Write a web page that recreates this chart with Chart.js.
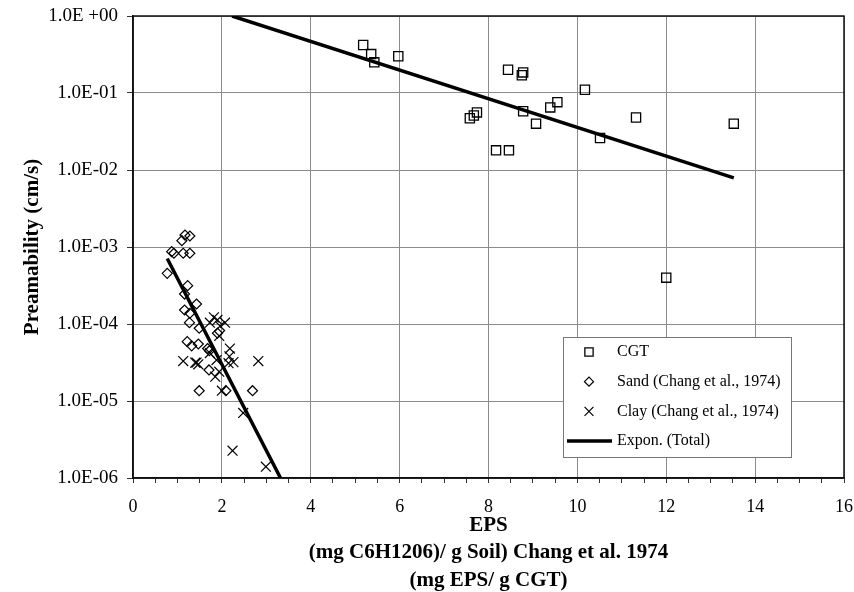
<!DOCTYPE html>
<html>
<head>
<meta charset="utf-8">
<title>Preamability vs EPS</title>
<script src="https://cdn.jsdelivr.net/npm/chart.js@4.4.1/dist/chart.umd.min.js"></script>
<style>
  html, body { margin: 0; padding: 0; background: #fff; }
  canvas { display: block; }
</style>
</head>
<body>
<canvas id="epsChart" width="854" height="592"></canvas>
<script>
// CGT measurements (mg EPS / g CGT, cm/s)
const cgtX = [5.18, 5.36, 5.43, 5.97, 7.58, 7.67, 7.74, 8.17, 8.46, 8.44, 8.78, 8.75, 8.78, 9.07, 9.39, 9.55, 10.17, 10.51, 11.32, 12.0, 13.52];
const cgtY = [0.42, 0.32, 0.25, 0.30, 0.047, 0.051, 0.056, 0.018, 0.018, 0.20, 0.185, 0.17, 0.058, 0.040, 0.065, 0.076, 0.11, 0.026, 0.048, 0.0004, 0.040];

// Sand (Chang et al., 1974)
const sandX = [1.17, 1.28, 1.10, 0.87, 0.92, 1.13, 1.28, 0.77, 1.23, 1.16, 1.43, 1.16, 1.28, 1.27, 1.49, 1.22, 1.32, 1.47, 1.68, 1.72, 1.71, 1.49, 2.09, 2.69, 1.90];
const sandY = [1.43e-3, 1.39e-3, 1.21e-3, 8.7e-4, 8.3e-4, 8.3e-4, 8.3e-4, 4.55e-4, 3.15e-4, 2.45e-4, 1.82e-4, 1.52e-4, 1.38e-4, 1.04e-4, 8.8e-5, 5.9e-5, 5.2e-5, 5.5e-5, 4.8e-5, 4.5e-5, 2.53e-5, 1.36e-5, 1.36e-5, 1.36e-5, 7.6e-5];

// Clay (Chang et al., 1974)
const clayX = [1.13, 1.40, 1.47, 1.43, 1.82, 1.73, 1.96, 2.07, 1.90, 1.94, 1.73, 1.88, 2.18, 2.17, 2.26, 2.15, 1.94, 1.85, 2.82, 2.00, 2.48, 2.24, 2.99];
const clayY = [3.3e-5, 3.15e-5, 3.0e-5, 3.15e-5, 1.22e-4, 1.04e-4, 9.4e-5, 1.04e-4, 1.13e-4, 7.0e-5, 4.2e-5, 3.4e-5, 4.8e-5, 3.8e-5, 3.2e-5, 3.1e-5, 2.4e-5, 2.07e-5, 3.3e-5, 1.36e-5, 7.0e-6, 2.26e-6, 1.4e-6];

// Expon. (Total) trend lines; null splits the two pieces
const trendX = [0.77, 3.32, 3.32, 2.23, 13.52];
const trendY = [7.1e-4, 1e-6, null, 1.0, 0.0079];

// axis ticks
const xTickLabels = ['0', '2', '4', '6', '8', '10', '12', '14', '16'];
const yTickValues = [1, 1e-1, 1e-2, 1e-3, 1e-4, 1e-5, 1e-6];
const yTickLabels = ['1.0E +00', '1.0E-01', '1.0E-02', '1.0E-03', '1.0E-04', '1.0E-05', '1.0E-06'];

const serif = '"Liberation Serif", "DejaVu Serif", serif';

function toPoints(xs, ys) {
  return xs.map((x, i) => ({ x: x, y: ys[i] }));
}

// black frame round the plot area
const frame = {
  id: 'frame',
  beforeDatasetsDraw(chart) {
    const a = chart.chartArea;
    const ctx = chart.ctx;
    ctx.save();
    ctx.strokeStyle = '#111';
    ctx.lineWidth = 1.5;
    ctx.strokeRect(a.left, a.top, a.right - a.left, a.bottom - a.top);
    ctx.restore();
  }
};

// legend box inside the plot, like the Excel one
const boxLegend = {
  id: 'boxLegend',
  afterDatasetsDraw(chart) {
    const ctx = chart.ctx;
    const a = chart.chartArea;
    const left = a.left + 430, top = a.top + 321, w = 228, h = 120;
    ctx.save();
    ctx.fillStyle = '#fff';
    ctx.fillRect(left, top, w, h);
    ctx.strokeStyle = '#777';
    ctx.lineWidth = 1;
    ctx.strokeRect(left + 0.5, top + 0.5, w, h);
    ctx.font = '16px ' + serif;
    ctx.textBaseline = 'middle';
    chart.data.datasets.forEach((ds, i) => {
      const y = top + 15 + i * 29.7;
      ctx.strokeStyle = '#000';
      if (ds.showLine) {
        ctx.lineWidth = 3.5;
        ctx.beginPath();
        ctx.moveTo(left + 4, y);
        ctx.lineTo(left + 49, y);
        ctx.stroke();
      } else {
        ctx.fillStyle = 'rgba(0,0,0,0)';
        ctx.lineWidth = ds.borderWidth;
        Chart.helpers.drawPoint(ctx, {
          pointStyle: ds.pointStyle,
          radius: ds.pointRadius * 0.9,
          borderWidth: ds.borderWidth,
          rotation: 0
        }, left + 26, y);
      }
      ctx.fillStyle = '#000';
      ctx.fillText(ds.label, left + 54, y);
    });
    ctx.restore();
  }
};

const ctx = document.getElementById('epsChart').getContext('2d');
const chart = new Chart(ctx, {
  type: 'scatter',
  data: {
    datasets: [
      {
        label: 'CGT',
        data: toPoints(cgtX, cgtY),
        pointStyle: 'rect',
        pointRadius: 6.5,
        borderWidth: 1.3,
        borderColor: '#000',
        backgroundColor: 'rgba(0,0,0,0)'
      },
      {
        label: 'Sand (Chang et al., 1974)',
        data: toPoints(sandX, sandY),
        pointStyle: 'rectRot',
        pointRadius: 5,
        borderWidth: 1.2,
        borderColor: '#000',
        backgroundColor: 'rgba(0,0,0,0)'
      },
      {
        label: 'Clay (Chang et al., 1974)',
        data: toPoints(clayX, clayY),
        pointStyle: 'crossRot',
        pointRadius: 7,
        borderWidth: 1.2,
        borderColor: '#000',
        backgroundColor: 'rgba(0,0,0,0)'
      },
      {
        label: 'Expon. (Total)',
        data: toPoints(trendX, trendY),
        showLine: true,
        spanGaps: false,
        pointRadius: 0,
        borderWidth: 3.5,
        borderColor: '#000',
        backgroundColor: '#000'
      }
    ]
  },
  options: {
    responsive: false,
    animation: false,
    events: [],
    layout: { padding: { top: 16, right: 10, left: 0, bottom: 0 } },
    plugins: {
      legend: { display: false },
      tooltip: { enabled: false }
    },
    scales: {
      x: {
        type: 'linear',
        min: 0,
        max: 16,
        afterFit(scale) {
          scale.height = 114;
          scale.paddingLeft = 0;
          scale.paddingRight = 0;
        },
        ticks: {
          stepSize: 0.5,
          autoSkip: false,
          maxRotation: 0,
          padding: 13,
          color: '#000',
          font: { family: serif, size: 18 },
          callback: (value) => (value % 2 === 0 ? xTickLabels[value / 2] : '')
        },
        grid: {
          color: (c) => (c.tick && c.tick.value % 2 === 0 ? '#8c8c8c' : 'rgba(0,0,0,0)'),
          tickColor: '#333',
          tickLength: 5,
          lineWidth: 1
        },
        border: { display: true, color: '#111', width: 1.5 },
        title: {
          display: true,
          text: ['EPS', '(mg C6H1206)/ g Soil) Chang et al. 1974', '(mg EPS/ g CGT)'],
          color: '#000',
          font: { family: serif, size: 21, weight: 'bold', lineHeight: 1.31 },
          padding: { top: 0, bottom: -2 }
        }
      },
      y: {
        type: 'logarithmic',
        min: 1e-6,
        max: 1,
        afterFit(scale) {
          scale.width = 133;
          scale.paddingTop = 0;
          scale.paddingBottom = 0;
        },
        afterBuildTicks(scale) {
          scale.ticks = yTickValues.map(v => ({ value: v }));
        },
        ticks: {
          padding: 9,
          color: '#000',
          font: { family: serif, size: 19 },
          callback: (value, index) => yTickLabels[index]
        },
        grid: {
          color: '#8c8c8c',
          tickColor: '#333',
          tickLength: 6,
          lineWidth: 1
        },
        border: { display: true, color: '#111', width: 1.5 },
        title: {
          display: true,
          text: 'Preamability (cm/s)',
          color: '#000',
          font: { family: serif, size: 21, weight: 'bold', lineHeight: 1.2 },
          padding: { top: 20, bottom: 0 }
        }
      }
    }
  },
  plugins: [frame, boxLegend]
});
</script>
</body>
</html>
